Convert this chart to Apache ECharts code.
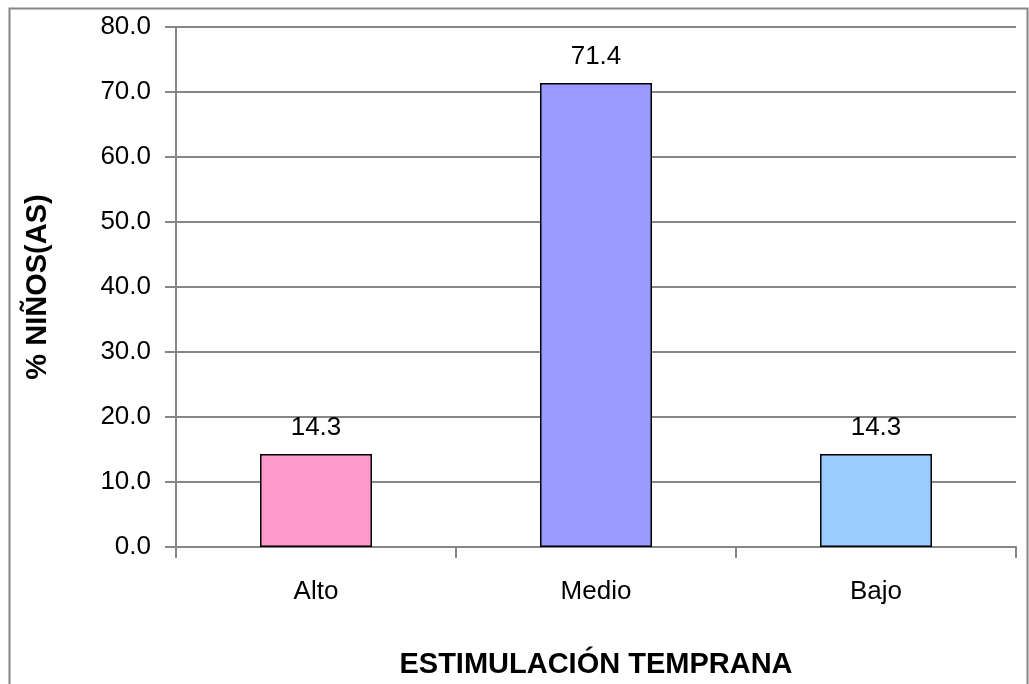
<!DOCTYPE html>
<html><head><meta charset="utf-8">
<script src="https://cdn.jsdelivr.net/npm/echarts@6/dist/echarts.min.js"></script>
<style>html,body{margin:0;padding:0;background:#fff;overflow:hidden}#c{width:1029px;height:684px}</style>
</head><body><div id="c"></div>
<script>
const categories = ['Alto', 'Medio', 'Bajo'];
const values = [14.3, 71.4, 14.3];
const barColors = ['#FF99CC', '#9999FF', '#99CCFF'];
const yTicks = [0, 10, 20, 30, 40, 50, 60, 70, 80];

const chart = echarts.init(document.getElementById('c'), null, {renderer: 'canvas'});
const font = 'Liberation Sans, Arial, sans-serif';
chart.setOption({
  animation: false,
  backgroundColor: '#fff',
  graphic: [{
    type: 'rect', shape: {x: 9.5, y: 8.5, width: 1018, height: 700},
    style: {fill: 'none', stroke: '#868686', lineWidth: 2}, silent: true
  }],
  grid: {left: 176, top: 27, width: 840, height: 525, containLabel: false},
  xAxis: {
    type: 'category', data: categories,
    name: 'ESTIMULACIÓN TEMPRANA', nameLocation: 'middle', nameGap: 103,
    nameTextStyle: {fontFamily: font, fontSize: 29, fontWeight: 'bold', color: '#000'},
    axisLine: {lineStyle: {color: '#868686', width: 2}},
    axisTick: {show: true, length: 11, lineStyle: {color: '#868686', width: 2}},
    axisLabel: {fontFamily: font, fontSize: 26, color: '#000', margin: 32}
  },
  yAxis: {
    type: 'value', min: 0, max: 80, interval: 10,
    name: '% NIÑOS(AS)', nameLocation: 'middle', nameGap: 124, nameRotate: 90,
    nameTextStyle: {fontFamily: font, fontSize: 29, fontWeight: 'bold', color: '#000'},
    axisLine: {show: true, lineStyle: {color: '#868686', width: 2}},
    axisTick: {show: true, length: 11, lineStyle: {color: '#868686', width: 2}},
    axisLabel: {fontFamily: font, fontSize: 26, color: '#000', margin: 25,
      formatter: v => yTicks.includes(v) ? v.toFixed(1) : ''},
    splitLine: {lineStyle: {color: '#868686', width: 2}}
  },
  series: [{
    type: 'bar', barWidth: '40%',
    data: values.map((v, i) => ({value: v, itemStyle: {color: barColors[i]}})),
    itemStyle: {borderColor: '#000', borderWidth: 1.5},
    label: {show: true, position: 'top', distance: 13, fontFamily: font, fontSize: 26, color: '#000',
      formatter: p => p.value.toFixed(1)}
  }]
});
</script></body></html>
